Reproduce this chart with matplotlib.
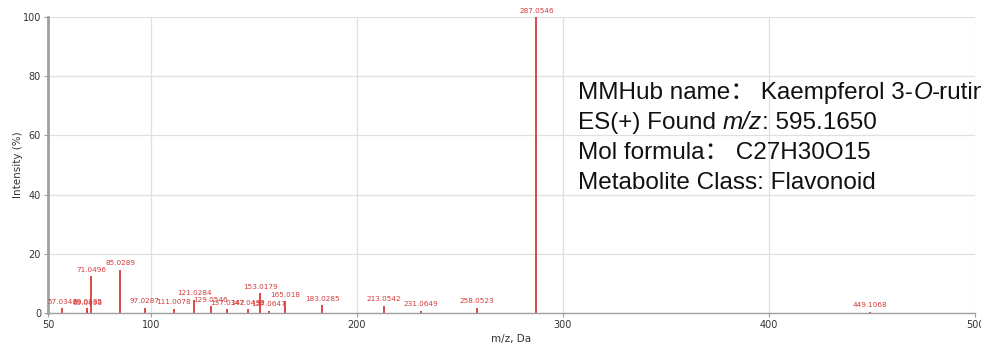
import matplotlib
matplotlib.use("Agg")
import matplotlib.pyplot as plt
from matplotlib.transforms import offset_copy

mz = [57.0343, 69.0335, 69.0698, 71.0496, 85.0289, 97.0287, 111.0078, 121.0284,
      129.0546, 137.0342, 147.0438, 153.0179, 157.0647, 165.018, 183.0285,
      213.0542, 231.0649, 258.0523, 287.0546, 449.1068]
labels = ["57.0343", "69.0335", "69.0698", "71.0496", "85.0289", "97.0287", "111.0078", "121.0284",
          "129.0546", "137.0342", "147.0438", "153.0179", "157.0647", "165.018", "183.0285",
          "213.0542", "231.0649", "258.0523", "287.0546", "449.1068"]
intensity = [1.6, 1.6, 1.1, 12.4, 14.6, 1.7, 1.5, 4.5, 2.2, 1.3, 1.3, 6.7, 0.7, 3.9, 2.6,
             2.5, 0.8, 1.8, 100, 0.5]
xticks = [50, 100, 200, 300, 400, 500]
yticks = [0, 20, 40, 60, 80, 100]

red = "#d63a3a"
fig = plt.figure(figsize=(9.81, 3.46), dpi=100)
ax = fig.add_axes([48/981, 33/346, (975-48)/981, (313-17)/346])
ax.set_xlim(50, 500)
ax.set_ylim(0, 100)
ax.set_xticks(xticks)
ax.set_yticks(yticks)
ax.grid(True, color="#e0e0e0", lw=0.9)
ax.set_axisbelow(True)
for s in ["top", "right"]:
    ax.spines[s].set_visible(False)
ax.spines["left"].set_color("#a0a0a0")
ax.spines["left"].set_linewidth(2)
ax.spines["bottom"].set_color("#a0a0a0")
ax.spines["bottom"].set_linewidth(1)
ax.tick_params(colors="#a0a0a0", labelcolor="#333333", labelsize=7, length=3, pad=2)
ax.set_xlabel("m/z, Da", fontsize=7.5, color="#333333", labelpad=3)
ax.set_ylabel("Intensity (%)", fontsize=7.5, color="#333333", labelpad=0)

ax.vlines(mz, 0, intensity, color=red, lw=1.3)
for x, y, l in zip(mz, intensity, labels):
    ax.annotate(l, (x, y), xytext=(0, 2.5), textcoords="offset points",
                ha="center", va="bottom", fontsize=5.2, color=red, annotation_clip=False)

fig.canvas.draw()
renderer = fig.canvas.get_renderer()

def runs(x, y, parts):
    t = fig.transFigure
    for s, style in parts:
        txt = fig.text(x, y, s, transform=t, fontsize=17.5, color="#111111",
                       family=["Liberation Sans", "Noto Sans CJK SC"], style=style,
                       va="baseline", ha="left")
        txt.draw(renderer)
        ex = txt.get_window_extent(renderer)
        t = offset_copy(txt.get_transform(), fig=fig, x=ex.width, units="dots")

x0 = 578/981
runs(x0, 1 - 99/346, [("MMHub name：", "normal"), (" Kaempferol 3-", "normal"), ("O", "italic"), ("-rutinoside", "normal")])
runs(x0, 1 - 129/346, [("ES(+) Found ", "normal"), ("m/z", "italic"), (": 595.1650", "normal")])
runs(x0, 1 - 159/346, [("Mol formula：", "normal"), (" C27H30O15", "normal")])
runs(x0, 1 - 189/346, [("Metabolite Class: Flavonoid", "normal")])

fig.savefig("out.png", dpi=100)
